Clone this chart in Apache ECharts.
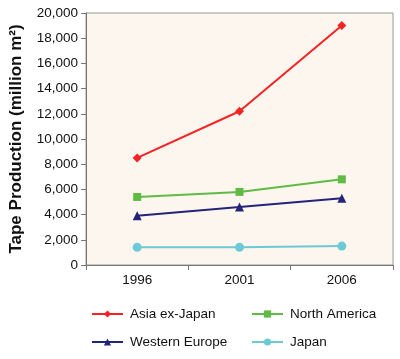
<!DOCTYPE html>
<html><head><meta charset="utf-8">
<script src="https://cdn.jsdelivr.net/npm/echarts@6/dist/echarts.min.js"></script>
<style>html,body{margin:0;padding:0;background:#fff}#c{width:400px;height:359px}</style>
</head><body><div id="c"></div>
<script>
const categories = ['1996', '2001', '2006'];
const asiaExJapan = [8500, 12200, 19000];
const northAmerica = [5400, 5800, 6800];
const westernEurope = [3900, 4600, 5300];
const japan = [1400, 1400, 1500];
const seriesNames = ['Asia ex-Japan', 'North America', 'Western Europe', 'Japan'];
const yTicks = [0, 2000, 4000, 6000, 8000, 10000, 12000, 14000, 16000, 18000, 20000];

const colors = ['#f42424', '#5fbb44', '#24247a', '#6ccad6'];
const symbols = ['diamond', 'rect', 'triangle', 'circle'];
const sizes = [9, 8, 9, 9];
const dataSets = [asiaExJapan, northAmerica, westernEurope, japan];
const font = 'Liberation Sans, Arial, sans-serif';

const chart = echarts.init(document.getElementById('c'), null, {renderer: 'canvas'});
const legendPos = [[86, 302], [246, 302], [86, 330], [246, 330]];
chart.setOption({
  animation: false,
  grid: {left: 86, right: 7, top: 13, bottom: 94, show: true, backgroundColor: '#fdf6ee', borderColor: '#999', borderWidth: 1},
  legend: seriesNames.map((n, i) => ({
    data: [n], left: legendPos[i][0], top: legendPos[i][1], itemWidth: 31, itemHeight: 9, itemGap: 0,
    textStyle: {fontFamily: font, fontSize: 13.5, color: '#111', padding: [0, 0, 0, 2]}
  })),
  xAxis: {
    type: 'category', data: categories, boundaryGap: true,
    axisLine: {lineStyle: {color: '#777'}},
    axisTick: {show: true, length: 5, lineStyle: {color: '#777'}},
    axisLabel: {fontFamily: font, fontSize: 13.5, color: '#111', margin: 8}
  },
  yAxis: {
    type: 'value', min: 0, max: 20000, interval: 2000,
    name: 'Tape Production (million m²)', nameLocation: 'middle', nameGap: 61,
    nameTextStyle: {fontFamily: font, fontSize: 17, fontWeight: 'bold', color: '#111'},
    axisLine: {show: true, lineStyle: {color: '#777'}},
    axisTick: {show: true, length: 5, inside: false, lineStyle: {color: '#777'}},
    splitLine: {show: false},
    axisLabel: {fontFamily: font, fontSize: 13.5, color: '#111', margin: 8,
      formatter: v => yTicks.includes(v) ? v.toLocaleString('en-US') : ''}
  },
  series: seriesNames.map((n, i) => ({
    name: n, type: 'line', data: dataSets[i], symbol: symbols[i], symbolSize: sizes[i],
    lineStyle: {color: colors[i], width: 2}, itemStyle: {color: colors[i]}, color: colors[i]
  }))
});
</script></body></html>
